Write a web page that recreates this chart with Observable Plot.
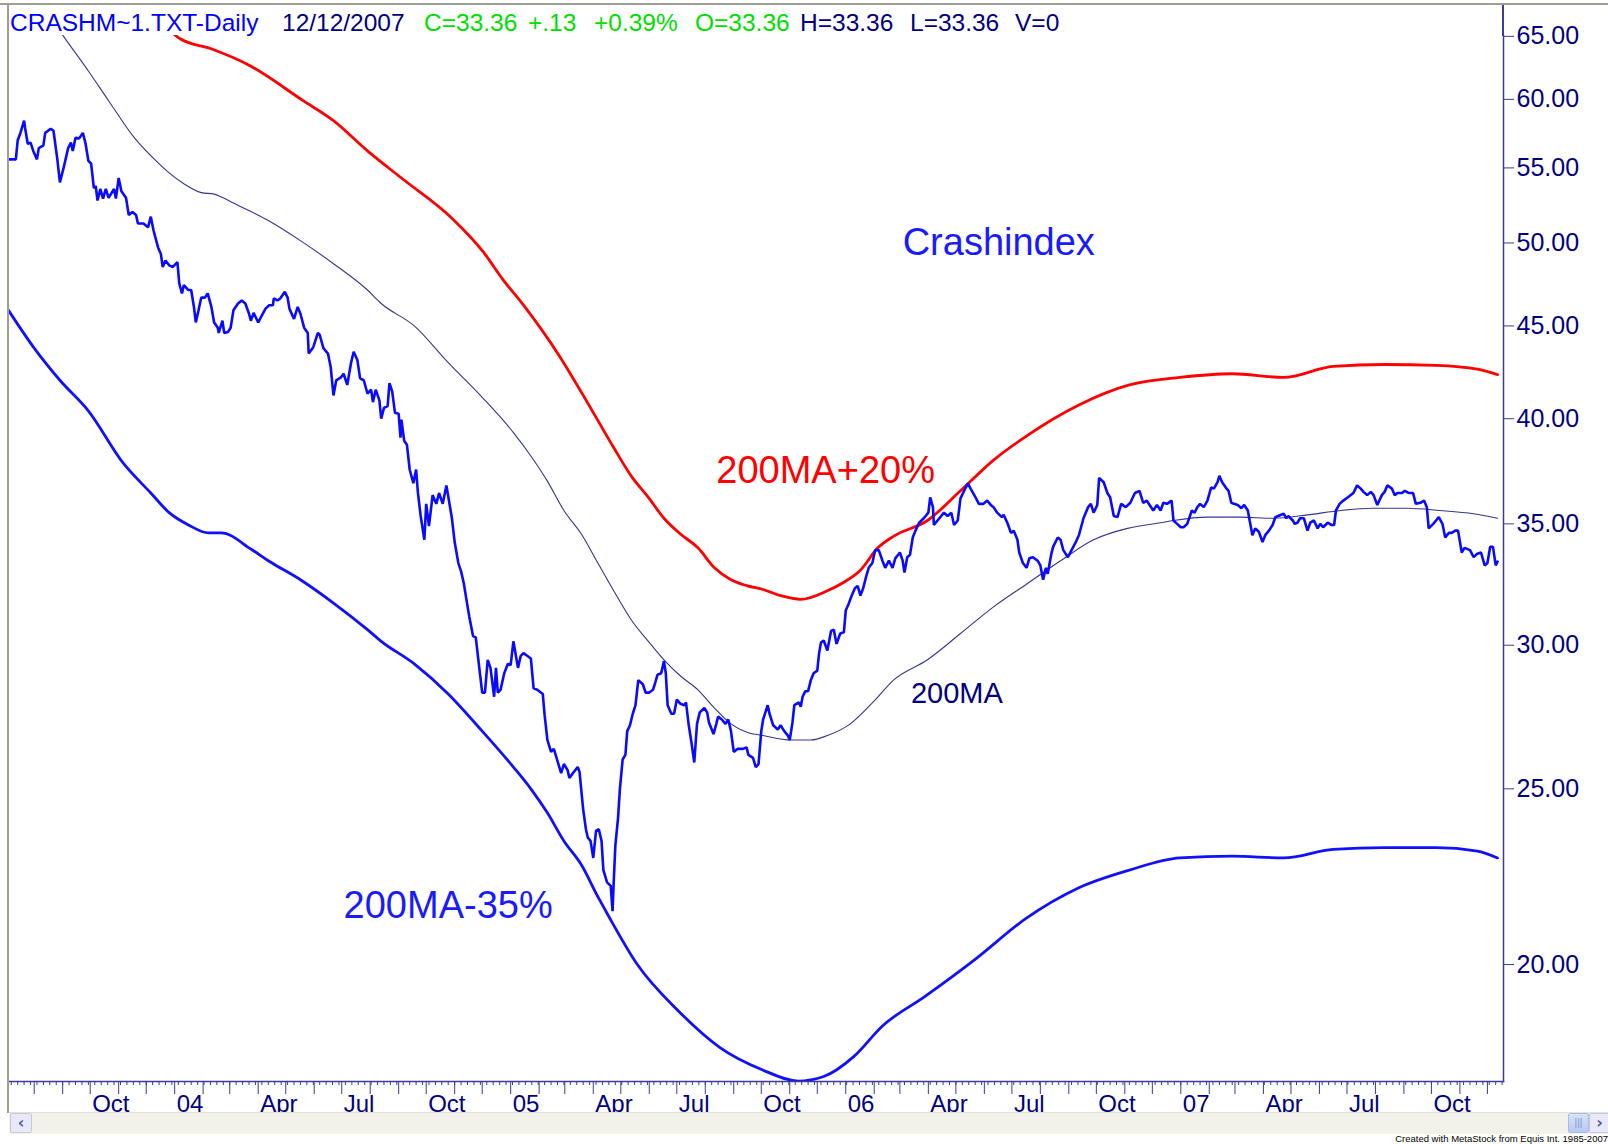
<!DOCTYPE html>
<html><head><meta charset="utf-8">
<script src="https://cdn.jsdelivr.net/npm/d3@7"></script>
<script src="https://cdn.jsdelivr.net/npm/@observablehq/plot@0.6"></script>
<style>
body{margin:0;background:#fff;font-family:"Liberation Sans",Arial,sans-serif;}
#wrap{position:relative;width:1608px;height:1144px;overflow:hidden;background:#fff;}
#wrap svg{position:absolute;left:0;top:0;}
.chrome{position:absolute;}
</style></head><body><div id="wrap"></div>
<script>
// ---- price (daily close) ----
const priceDates = [
"2003-07-04","2003-07-12","2003-07-14","2003-07-17","2003-07-21","2003-07-22","2003-07-25","2003-07-28","2003-07-31","2003-08-04","2003-08-06","2003-08-11","2003-08-13","2003-08-19","2003-08-22","2003-08-26","2003-08-29","2003-09-02","2003-09-07","2003-09-10","2003-09-12","2003-09-15","2003-09-19","2003-09-23","2003-09-26","2003-09-29","2003-10-02","2003-10-05","2003-10-07","2003-10-09","2003-10-12","2003-10-15","2003-10-18","2003-10-21","2003-10-27","2003-10-29","2003-11-01","2003-11-04","2003-11-09","2003-11-12","2003-11-16","2003-11-20","2003-11-22","2003-11-28","2003-12-03","2003-12-06","2003-12-09","2003-12-14","2003-12-17","2003-12-19","2003-12-22","2003-12-26","2003-12-30",
"2004-01-04","2004-01-06","2004-01-09","2004-01-11","2004-01-16","2004-01-19","2004-01-22","2004-01-24","2004-01-27","2004-01-30","2004-02-03","2004-02-06","2004-02-10","2004-02-13","2004-02-17","2004-02-18","2004-02-22","2004-02-24","2004-02-28","2004-03-02","2004-03-05","2004-03-10","2004-03-14","2004-03-18","2004-03-22","2004-03-24","2004-03-27","2004-04-01","2004-04-04","2004-04-09","2004-04-13","2004-04-17","2004-04-18","2004-04-22","2004-04-25","2004-04-30","2004-05-03","2004-05-05","2004-05-10","2004-05-14","2004-05-17","2004-05-21","2004-05-25","2004-05-26","2004-05-31","2004-06-05","2004-06-07","2004-06-11","2004-06-16","2004-06-19","2004-06-22","2004-06-25","2004-06-30","2004-07-03","2004-07-07","2004-07-11","2004-07-14","2004-07-18","2004-07-21","2004-07-25","2004-07-29","2004-08-02","2004-08-04","2004-08-07","2004-08-11","2004-08-13","2004-08-16","2004-08-20","2004-08-22","2004-08-25","2004-08-28","2004-09-01","2004-09-03","2004-09-04","2004-09-07","2004-09-10","2004-09-13","2004-09-17","2004-09-20","2004-09-22","2004-09-25","2004-09-29","2004-10-01","2004-10-04","2004-10-08","2004-10-12","2004-10-15","2004-10-19","2004-10-23","2004-10-26","2004-10-29","2004-11-01","2004-11-05","2004-11-08","2004-11-11","2004-11-14","2004-11-17","2004-11-21","2004-11-24","2004-11-28","2004-12-01","2004-12-04","2004-12-07","2004-12-10","2004-12-14","2004-12-16","2004-12-18","2004-12-21","2004-12-25","2004-12-29",
"2005-01-01","2005-01-04","2005-01-09","2005-01-12","2005-01-15","2005-01-19","2005-01-23","2005-01-26","2005-01-30","2005-02-05","2005-02-07","2005-02-10","2005-02-14","2005-02-17","2005-02-20","2005-02-25","2005-02-28","2005-03-04","2005-03-06","2005-03-11","2005-03-15","2005-03-17","2005-03-21","2005-03-24","2005-03-26","2005-03-29","2005-04-01","2005-04-04","2005-04-07","2005-04-10","2005-04-12","2005-04-16","2005-04-20","2005-04-22","2005-04-23","2005-04-25","2005-04-28","2005-04-30","2005-05-03","2005-05-06","2005-05-08","2005-05-11","2005-05-14","2005-05-17","2005-05-20","2005-05-25","2005-05-28","2005-06-01","2005-06-05","2005-06-07","2005-06-10","2005-06-14","2005-06-17","2005-06-19","2005-06-21","2005-06-25","2005-06-28","2005-07-01","2005-07-05","2005-07-09","2005-07-11","2005-07-14","2005-07-17","2005-07-20","2005-07-23","2005-07-26","2005-07-31","2005-08-03","2005-08-05","2005-08-10","2005-08-13","2005-08-15","2005-08-19","2005-08-23","2005-08-26","2005-08-29","2005-09-01","2005-09-05","2005-09-11","2005-09-15","2005-09-17","2005-09-22","2005-09-25","2005-09-28","2005-10-01","2005-10-03","2005-10-08","2005-10-10","2005-10-14","2005-10-19","2005-10-22","2005-10-26","2005-10-30","2005-11-01","2005-11-04","2005-11-06","2005-11-11","2005-11-13","2005-11-15","2005-11-18","2005-11-21","2005-11-24","2005-11-27","2005-12-01","2005-12-03","2005-12-05","2005-12-08","2005-12-12","2005-12-16","2005-12-19","2005-12-22","2005-12-26","2005-12-30",
"2006-01-01","2006-01-04","2006-01-08","2006-01-11","2006-01-14","2006-01-17","2006-01-20","2006-01-23","2006-01-26","2006-01-30","2006-02-02","2006-02-06","2006-02-10","2006-02-13","2006-02-17","2006-02-21","2006-02-24","2006-03-01","2006-03-04","2006-03-06","2006-03-09","2006-03-12","2006-03-15","2006-03-18","2006-03-22","2006-03-27","2006-04-01","2006-04-03","2006-04-06","2006-04-07","2006-04-11","2006-04-15","2006-04-18","2006-04-22","2006-04-26","2006-04-29","2006-05-03","2006-05-06","2006-05-10","2006-05-14","2006-05-17","2006-05-23","2006-05-26","2006-05-31","2006-06-04","2006-06-08","2006-06-11","2006-06-15","2006-06-20","2006-06-22","2006-06-26","2006-06-30","2006-07-03","2006-07-07","2006-07-09","2006-07-13","2006-07-17","2006-07-20","2006-07-24","2006-07-29","2006-08-01","2006-08-04","2006-08-07","2006-08-09","2006-08-13","2006-08-15","2006-08-20","2006-08-23","2006-08-26","2006-08-31","2006-09-04","2006-09-08","2006-09-12","2006-09-15","2006-09-17","2006-09-22","2006-09-25","2006-09-28","2006-10-02","2006-10-04","2006-10-09","2006-10-13","2006-10-16","2006-10-20","2006-10-24","2006-10-28","2006-11-02","2006-11-07","2006-11-12","2006-11-17","2006-11-21","2006-11-25","2006-11-28","2006-12-02","2006-12-06","2006-12-10","2006-12-13","2006-12-17","2006-12-22","2006-12-24","2006-12-28",
"2007-01-01","2007-01-04","2007-01-08","2007-01-13","2007-01-16","2007-01-19","2007-01-22","2007-01-26","2007-01-30","2007-02-03","2007-02-06","2007-02-10","2007-02-12","2007-02-15","2007-02-19","2007-02-22","2007-02-25","2007-02-28","2007-03-04","2007-03-08","2007-03-11","2007-03-15","2007-03-17","2007-03-20","2007-03-23","2007-03-27","2007-03-31","2007-04-03","2007-04-07","2007-04-11","2007-04-14","2007-04-17","2007-04-23","2007-04-26","2007-04-28","2007-05-03","2007-05-05","2007-05-08","2007-05-11","2007-05-15","2007-05-19","2007-05-22","2007-05-26","2007-05-30","2007-06-02","2007-06-05","2007-06-10","2007-06-14","2007-06-17","2007-06-19","2007-06-23","2007-06-27","2007-07-02","2007-07-08","2007-07-12","2007-07-16","2007-07-19","2007-07-23","2007-07-27","2007-07-30","2007-08-03","2007-08-08","2007-08-11","2007-08-14","2007-08-19","2007-08-22","2007-08-25","2007-08-30","2007-09-02","2007-09-06","2007-09-11","2007-09-14","2007-09-19","2007-09-23","2007-09-26","2007-09-28","2007-10-03","2007-10-06","2007-10-09","2007-10-13","2007-10-16","2007-10-20","2007-10-23","2007-10-27","2007-10-30","2007-11-03","2007-11-06","2007-11-12","2007-11-16","2007-11-20","2007-11-24","2007-11-28","2007-12-01","2007-12-04","2007-12-07","2007-12-10","2007-12-12"];
const priceValues = [
55.6,55.6,56.95,57.5,58.4,57.9,56.7,56.8,56.2,55.6,56.4,56.6,57.5,57.8,57.66,55.7,54.0,55.0,56.4,56.8,56.2,57.15,57.1,57.5,56.7,55.5,55.3,53.6,53.75,52.77,53.55,52.9,53.55,52.95,53.55,52.9,54.3,53.4,52.95,51.8,52.0,51.8,51.25,51.25,51.0,51.7,50.8,49.7,49.3,48.5,48.9,48.6,48.5,
48.8,47.5,46.9,47.4,47.1,47.1,46.1,45.2,45.9,46.65,46.65,46.9,46.1,45.2,44.9,44.6,45.3,44.6,44.65,44.9,45.9,46.3,46.48,46.3,45.7,45.3,45.75,45.2,45.5,46.0,46.2,46.2,46.6,46.48,46.6,47.0,46.65,46.0,45.4,46.1,45.7,44.9,44.6,43.45,43.8,44.6,44.5,43.75,43.45,42.7,41.2,42.0,42.15,42.35,41.75,42.9,43.55,43.1,42.1,42.0,41.3,41.5,40.85,41.5,40.94,40.0,40.55,40.65,41.85,41.4,40.3,40.25,39.05,39.95,38.9,38.7,37.5,36.85,37.5,36.4,35.35,34.3,35.9,34.9,36.3,35.9,36.4,35.9,36.75,36.0,35.25,34.2,33.3,32.95,32.45,31.75,31.1,30.35,30.3,29.1,28.25,28.25,29.45,29.15,28.1,29.15,28.25,28.35,28.95,29.3,
29.25,30.15,29.15,29.6,29.7,29.6,29.5,28.4,28.35,28.2,27.45,26.6,26.2,26.3,26.0,25.5,25.8,25.6,25.35,25.55,25.7,25.55,24.35,23.75,23.5,23.4,22.9,23.7,23.75,23.4,22.55,22.2,22.1,21.4,22.05,23.25,24.1,25.0,25.95,26.1,26.9,27.1,27.5,27.8,28.7,28.55,28.25,28.25,28.35,28.55,28.9,28.95,29.4,28.95,27.8,27.5,27.5,28.0,27.85,27.8,27.9,27.1,26.5,25.85,27.15,27.55,27.7,27.55,27.2,26.8,27.15,27.4,27.3,27.15,27.3,26.9,26.2,26.3,26.3,26.35,26.1,26.0,25.7,25.8,26.9,27.3,27.8,27.5,27.1,26.95,27.1,26.9,26.75,26.6,27.2,27.8,27.9,27.75,28.1,28.3,28.3,28.7,28.95,29.05,29.7,30.1,30.18,29.8,30.55,30.6,30.05,30.45,30.5,
31.35,31.6,32.0,32.25,32.35,31.95,32.25,32.7,33.1,33.3,33.85,33.85,33.4,33.1,33.4,33.1,33.5,33.75,33.4,32.9,33.55,33.65,34.4,34.7,35.05,35.25,35.5,36.2,35.75,34.95,35.15,35.35,35.5,35.35,35.5,34.95,35.15,36.15,36.5,36.85,36.6,36.15,35.9,35.9,36.05,35.85,35.75,35.5,35.3,35.4,35.05,34.6,34.7,34.3,33.75,33.3,33.1,33.5,33.55,33.4,33.2,32.6,33.1,32.85,33.7,34.0,34.4,34.3,33.85,33.55,33.85,34.15,34.5,34.95,35.25,35.75,35.9,35.5,35.85,37.1,36.9,36.4,36.2,35.35,35.3,35.9,35.75,35.95,36.4,36.5,35.95,36.05,35.85,35.6,35.85,35.6,35.95,35.9,36.05,35.15,35.0,
34.85,34.85,35.0,35.6,35.5,35.75,35.9,35.75,36.05,36.65,36.6,36.9,37.2,36.9,36.65,36.5,35.95,35.9,35.85,35.7,35.85,35.6,35.15,34.5,34.8,34.65,34.2,34.5,34.7,34.95,35.3,35.35,35.45,35.25,35.35,35.15,35.0,35.05,35.25,35.25,34.7,35.05,35.15,34.8,35.0,34.85,35.05,34.95,34.95,35.6,35.9,36.05,36.2,36.4,36.75,36.6,36.45,36.3,36.45,36.3,35.85,36.3,36.45,36.75,36.6,36.3,36.4,36.4,36.5,36.4,36.4,35.9,35.95,36.05,35.75,34.8,35.0,35.15,35.3,35.0,34.4,34.6,34.6,34.7,34.7,33.75,33.95,33.85,33.55,33.7,33.75,33.2,33.3,34.0,34.0,33.2,33.36];

// ---- 200-day moving average ----
const maDates = ["2003-08-01","2003-09-02","2003-09-29","2003-10-21","2003-11-18","2003-12-14","2003-12-26","2004-01-11","2004-01-30","2004-02-13","2004-02-21","2004-03-05","2004-04-12","2004-05-17","2004-06-22","2004-07-29","2004-08-13","2004-09-18","2004-10-25","2004-12-01","2005-01-04","2005-01-23","2005-02-10","2005-02-28","2005-03-19","2005-04-06","2005-04-24","2005-05-13","2005-05-31","2005-06-17","2005-07-05","2005-07-24","2005-08-11","2005-08-29","2005-09-16","2005-10-03","2005-11-02","2005-11-24","2005-12-12","2006-01-06","2006-02-01","2006-02-22","2006-03-31","2006-05-06","2006-06-11","2006-07-18","2006-08-23","2006-09-28","2006-11-04","2006-12-10","2006-12-24","2007-01-30","2007-03-07","2007-04-12","2007-05-19","2007-06-24","2007-07-30","2007-09-04","2007-10-10","2007-11-16","2007-12-12"];
const maValues = [68.7,65.0,62.2,59.9,57.15,55.35,54.65,53.9,53.3,53.2,53.0,52.6,51.45,50.15,48.7,47.1,46.3,45.0,42.95,41.1,39.3,38.15,36.95,35.6,34.55,33.3,32.1,30.95,30.15,29.45,28.85,28.35,27.7,27.15,26.85,26.75,26.6,26.6,26.75,27.15,27.95,28.7,29.45,30.45,31.5,32.45,33.4,34.3,34.8,35.05,35.15,35.3,35.3,35.25,35.4,35.6,35.7,35.7,35.6,35.45,35.25];

// ---- 200MA + 20% ----
const upperDates = ["2003-11-18","2003-12-14","2004-01-07","2004-02-09","2004-03-21","2004-05-20","2004-06-22","2004-07-29","2004-09-04","2004-10-29","2004-12-02","2004-12-24","2005-01-15","2005-02-22","2005-03-26","2005-04-24","2005-05-13","2005-05-31","2005-06-17","2005-07-05","2005-07-24","2005-08-11","2005-08-29","2005-09-16","2005-10-03","2005-10-22","2005-11-13","2005-12-12","2005-12-30","2006-01-17","2006-02-05","2006-02-22","2006-03-31","2006-05-06","2006-06-11","2006-07-16","2006-09-12","2006-11-06","2006-12-31","2007-02-26","2007-04-23","2007-06-16","2007-08-11","2007-10-06","2007-11-20","2007-12-12"];
const upperValues = [68.6,66.4,64.8,64.0,62.7,59.9,58.4,56.2,54.3,51.6,49.45,47.7,46.2,43.4,40.8,38.5,37.15,36.2,35.25,34.55,33.95,33.1,32.6,32.35,32.2,31.95,31.8,32.15,32.5,33.0,33.95,34.45,35.15,36.5,37.95,39.1,40.7,41.75,42.15,42.35,42.15,42.75,42.85,42.8,42.6,42.3];

// ---- 200MA - 35% ----
const lowerDates = ["2003-07-04","2003-08-01","2003-08-29","2003-09-29","2003-11-06","2003-12-06","2003-12-26","2004-01-16","2004-02-07","2004-02-21","2004-03-24","2004-04-12","2004-05-17","2004-06-22","2004-07-29","2004-08-13","2004-09-18","2004-10-25","2004-12-01","2005-01-04","2005-01-23","2005-02-10","2005-02-28","2005-03-19","2005-04-06","2005-04-17","2005-05-19","2005-07-03","2005-08-17","2005-10-02","2005-11-10","2005-12-08","2006-01-10","2006-02-10","2006-03-28","2006-05-23","2006-07-16","2006-09-12","2006-11-06","2006-12-31","2007-02-26","2007-04-23","2007-06-16","2007-08-11","2007-10-06","2007-11-20","2007-12-12"];
const lowerValues = [45.9,43.75,42.0,40.4,37.8,36.4,35.5,34.95,34.6,34.6,33.9,33.4,32.6,31.65,30.6,30.15,29.3,28.2,26.9,25.7,25.0,24.25,23.4,22.7,21.8,21.3,20.0,18.85,18.0,17.5,17.25,17.35,17.8,18.5,19.2,20.15,21.2,22.05,22.55,22.9,22.95,22.9,23.15,23.2,23.2,23.1,22.9];

// ---- axes ----
const yTicks = [20,25,30,35,40,45,50,55,60,65];
const xTickDates = ["2003-10-01","2004-01-01","2004-04-01","2004-07-01","2004-10-01","2005-01-01","2005-04-01","2005-07-01","2005-10-01","2006-01-01","2006-04-01","2006-07-01","2006-10-01","2007-01-01","2007-04-01","2007-07-01","2007-10-01"];
const xTickLabels = ["Oct","04","Apr","Jul","Oct","05","Apr","Jul","Oct","06","Apr","Jul","Oct","07","Apr","Jul","Oct"];

// ---- header & annotations ----
const headerTexts = ["CRASHM~1.TXT-Daily","12/12/2007","C=33.36","+.13","+0.39%","O=33.36","H=33.36","L=33.36","V=0"];
const headerColors = ["#0000ff","#000080","#00e000","#00e000","#00e000","#00e000","#000080","#000080","#000080"];
const headerX = [10,282,424,528,594,695,800,910,1015];
const annTexts = ["Crashindex","200MA+20%","200MA-35%","200MA"];
const annDates = ["2006-03-04","2005-08-13","2004-07-03","2006-03-13"];
const annValues = [50.0,37.45,21.55,28.2];
const annColors = ["#1a1aff","#ff0000","#1a1aff","#000080"];
const annSizes = [38,38,38,29];

const parse = d3.utcParse("%Y-%m-%d");
const toRows = (ds, vs) => ds.map((d, i) => ({date: parse(d), value: vs[i]}));
const price = toRows(priceDates, priceValues);
const ma = toRows(maDates, maValues);
const upper = toRows(upperDates, upperValues);
const lower = toRows(lowerDates, lowerValues);

const xStart = parse("2003-07-04");
const xEnd = new Date(Date.UTC(2007, 11, 18, 12));
const axisColor = "#3c3c96";
const labelColor = "#000080";
const labelMap = new Map(xTickDates.map((d, i) => [+parse(d), xTickLabels[i]]));
const monthTicks = d3.utcMonth.range(xStart, xEnd);
const weekTicks = d3.utcMonday.range(xStart, xEnd);

const chart = Plot.plot({
  width: 1608, height: 1115,
  marginTop: 35, marginBottom: 34, marginLeft: 8, marginRight: 105,
  style: {fontFamily: "'Liberation Sans', Arial, sans-serif", background: "transparent", overflow: "visible"},
  x: {type: "utc", domain: [xStart, xEnd], label: null},
  y: {type: "log", domain: [17.24, 65.07], label: null},
  marks: [
    Plot.lineY(upper, {x: "date", y: "value", stroke: "#ff0000", strokeWidth: 2.8, curve: "monotone-x", clip: true}),
    Plot.lineY(lower, {x: "date", y: "value", stroke: "#1010ff", strokeWidth: 2.8, curve: "monotone-x", clip: true}),
    Plot.lineY(ma, {x: "date", y: "value", stroke: "#35358c", strokeWidth: 1.1, curve: "monotone-x", clip: true}),
    Plot.lineY(price, {x: "date", y: "value", stroke: "#0a0aff", strokeWidth: 2.6, strokeLinejoin: "miter", clip: true}),
    Plot.frame({anchor: "bottom", stroke: axisColor, strokeWidth: 1.5}),
    Plot.frame({anchor: "right", stroke: axisColor, strokeWidth: 1.5}),
    Plot.axisY({anchor: "right", ticks: yTicks, tickFormat: d => d.toFixed(2), tickSize: 10, tickPadding: 3, fontSize: 25, stroke: axisColor, fill: labelColor}),
    Plot.axisX({ticks: weekTicks, tickSize: 4, tickFormat: () => "", stroke: axisColor}),
    Plot.axisX({ticks: monthTicks, tickSize: 13, tickFormat: () => "", stroke: axisColor}),
    Plot.axisX({ticks: xTickDates.map(parse), tickSize: 0, tickPadding: 13, tickFormat: d => labelMap.get(+d), textAnchor: "start", dx: 2, fontSize: 24, fill: labelColor}),
    ...annTexts.map((t, i) => Plot.text([t], {x: parse(annDates[i]), y: annValues[i], text: d => d, fill: annColors[i], fontSize: annSizes[i], textAnchor: "start"}))
  ]
});

const svg = d3.select(chart);
headerTexts.forEach((t, i) => {
  svg.append("text").attr("x", headerX[i]).attr("y", 30.5)
    .attr("font-size", 24.5).attr("fill", headerColors[i]).attr("text-anchor", "start")
    .style("font-family", "'Liberation Sans', Arial, sans-serif").text(t);
});

const wrap = document.getElementById("wrap");
wrap.appendChild(chart);
function box(style, html) {
  const d = document.createElement("div");
  d.className = "chrome";
  d.setAttribute("style", style);
  if (html) d.innerHTML = html;
  wrap.appendChild(d);
  return d;
}
// window frame
box("left:0;top:3px;width:1608px;height:2px;background:#a09d94;");
box("left:7px;top:3px;width:2px;height:1110px;background:#a09d94;");
// right axis extension above the plot area
box("left:1502px;top:5px;width:2px;height:31px;background:" + axisColor + ";");
// scrollbar
box("left:9px;top:1112px;width:1599px;height:21px;background:#f2f1ea;border-top:1px solid #e3e1d8;");
box("left:10px;top:1113px;width:20px;height:18px;background:#e9e8f6;border:1px solid #c6c8de;border-radius:2px;color:#4a5aa0;font:bold 16px/18px 'DejaVu Sans',sans-serif;text-align:center;", "&#8249;");
box("left:1568px;top:1113px;width:19px;height:18px;background:linear-gradient(#d7e2fb,#b7c9f2);border:1px solid #a9bde8;border-radius:2px;color:#7f94cf;font:10px/18px sans-serif;text-align:center;", "|||");
box("left:1589px;top:1113px;width:19px;height:18px;background:#e9e8f6;border:1px solid #c6c8de;border-radius:2px;color:#4a5aa0;font:bold 16px/18px 'DejaVu Sans',sans-serif;text-align:center;", "&#8250;");
box("left:1290px;top:1134px;width:318px;height:10px;font:9.5px/10px 'Liberation Sans',Arial,sans-serif;color:#000;white-space:nowrap;text-align:right;", "Created with MetaStock from Equis Int. 1985-2007");
</script>
</body></html>
